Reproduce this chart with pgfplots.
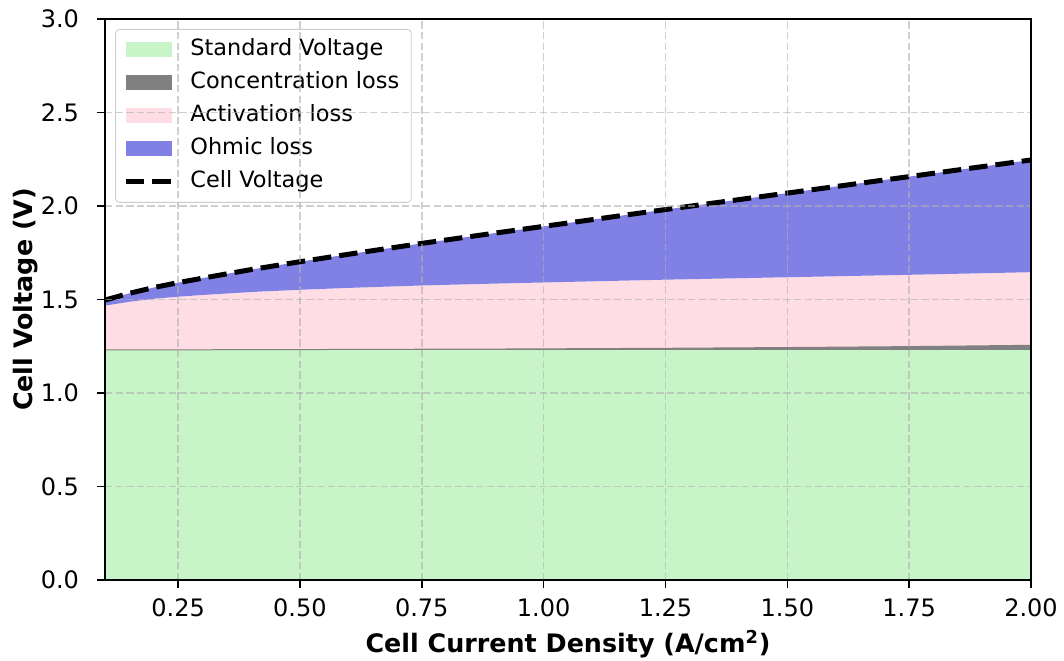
\documentclass[border=0pt]{standalone}
\usepackage{pgfplots}
\pgfplotsset{compat=1.18}
\usepackage{pgfplotstable}
\usepgfplotslibrary{fillbetween}
\usepackage{fontspec}
\setmainfont{DejaVu Sans}

\definecolor{stdgreen}{RGB}{200,245,200}
\definecolor{concgray}{RGB}{128,128,128}
\definecolor{actpink}{RGB}{255,221,228}
\definecolor{ohmblue}{RGB}{128,128,229}
\definecolor{gridgray}{RGB}{176,176,176}

% cumulative tops of the stacked areas
\pgfplotstableread{
x     zero  std    conc   act    cell
0.10  0     1.230  1.230  1.467  1.497
0.15  0     1.230  1.230  1.488  1.533
0.20  0     1.230  1.231  1.504  1.564
0.25  0     1.230  1.231  1.515  1.590
0.30  0     1.230  1.231  1.524  1.614
0.40  0     1.230  1.232  1.540  1.660
0.50  0     1.230  1.232  1.552  1.702
0.60  0     1.230  1.233  1.562  1.742
0.75  0     1.230  1.234  1.575  1.800
0.90  0     1.230  1.235  1.585  1.855
1.00  0     1.230  1.236  1.591  1.891
1.25  0     1.230  1.239  1.606  1.981
1.50  0     1.230  1.243  1.619  2.069
1.75  0     1.230  1.248  1.632  2.157
2.00  0     1.230  1.255  1.646  2.246
}\data

\begin{document}
\begin{tikzpicture}
\begin{axis}[
  name=ax,
  scale only axis,
  width=463pt, height=280.5pt,
  xmin=0.1, xmax=2.0, ymin=0, ymax=3,
  xtick={0.25,0.5,0.75,1.0,1.25,1.5,1.75,2.0},
  ytick={0,0.5,1,1.5,2,2.5,3},
  /pgf/number format/assume math mode=true,
  xticklabel style={/pgf/number format/.cd, fixed, fixed zerofill, precision=2, /tikz/.cd, yshift=-2pt},
  yticklabel style={/pgf/number format/.cd, fixed, fixed zerofill, precision=1, /tikz/.cd, xshift=-5.5pt},
  ticklabel style={font=\fontsize{12}{14}\selectfont},
  tick align=outside,
  major tick length=4pt,
  tick style={black, line width=0.8pt},
  axis line style={line width=0.9pt},
  xtick pos=bottom, ytick pos=left,
  grid=major,
  major grid style={gridgray, opacity=0.6, line width=0.8pt, dash pattern=on 3.7pt off 1.6pt},
  axis on top,
  xlabel={\bfseries Cell Current Density (A/cm\textsuperscript{2})},
  ylabel={\bfseries Cell Voltage (V)},
  label style={font=\fontsize{12.7}{15}\selectfont},
  xlabel style={at={(axis description cs:0.5,-0.1140)}, anchor=center},
  ylabel style={at={(axis description cs:-0.0854,0.5)}, anchor=center},
  legend cell align=left,
  legend style={at={(0,1)}, anchor=north west, xshift=5pt, yshift=-5pt,
    draw=gray!40, rounded corners=2pt, fill=white, fill opacity=0.8, text opacity=1,
    font=\fontsize{11.2}{13}\selectfont, inner xsep=4pt, inner ysep=2pt, row sep=0pt,
    nodes={text height=8.5pt, text depth=2.5pt, inner ysep=2.75pt},
    /tikz/every odd column/.append style={column sep=6pt}},
]
\addplot[draw=none, name path=zero, forget plot] table[x=x, y=zero]{\data};
\addplot[draw=none, name path=std, forget plot] table[x=x, y=std]{\data};
\addplot[draw=none, name path=conc, forget plot] table[x=x, y=conc]{\data};
\addplot[draw=none, name path=act, forget plot] table[x=x, y=act]{\data};
\addplot[draw=none, name path=cell, forget plot] table[x=x, y=cell]{\data};

\addplot[fill=stdgreen, draw=none,
  legend image code/.code={\fill[stdgreen, fill opacity=1, sharp corners] (0pt,-3.75pt) rectangle (23pt,3.75pt);}]
  fill between[of=std and zero];
\addlegendentry{Standard Voltage}
\addplot[fill=concgray, draw=none,
  legend image code/.code={\fill[concgray, fill opacity=1, sharp corners] (0pt,-3.75pt) rectangle (23pt,3.75pt);}]
  fill between[of=conc and std];
\addlegendentry{Concentration loss}
\addplot[fill=actpink, draw=none,
  legend image code/.code={\fill[actpink, fill opacity=1, sharp corners] (0pt,-3.75pt) rectangle (23pt,3.75pt);}]
  fill between[of=act and conc];
\addlegendentry{Activation loss}
\addplot[fill=ohmblue, draw=none,
  legend image code/.code={\fill[ohmblue, fill opacity=1, sharp corners] (0pt,-3.75pt) rectangle (23pt,3.75pt);}]
  fill between[of=cell and act];
\addlegendentry{Ohmic loss}
\addplot[concgray, line width=0.5pt, forget plot] table[x=x, y=conc]{\data};
\addplot[black, line width=2.5pt, dash pattern=on 9.25pt off 4pt,
  legend image code/.code={\draw[black, line width=2.5pt, dash pattern=on 9.25pt off 4pt, draw opacity=1, sharp corners] (0pt,0pt) -- (23pt,0pt);}]
  table[x=x, y=cell]{\data};
\addlegendentry{Cell Voltage}
\end{axis}
\pgfresetboundingbox
\path[use as bounding box] ([xshift=-52.5pt,yshift=-40.5pt]ax.south west) rectangle ([xshift=16.5pt,yshift=9.5pt]ax.north east);
\end{tikzpicture}
\end{document}
